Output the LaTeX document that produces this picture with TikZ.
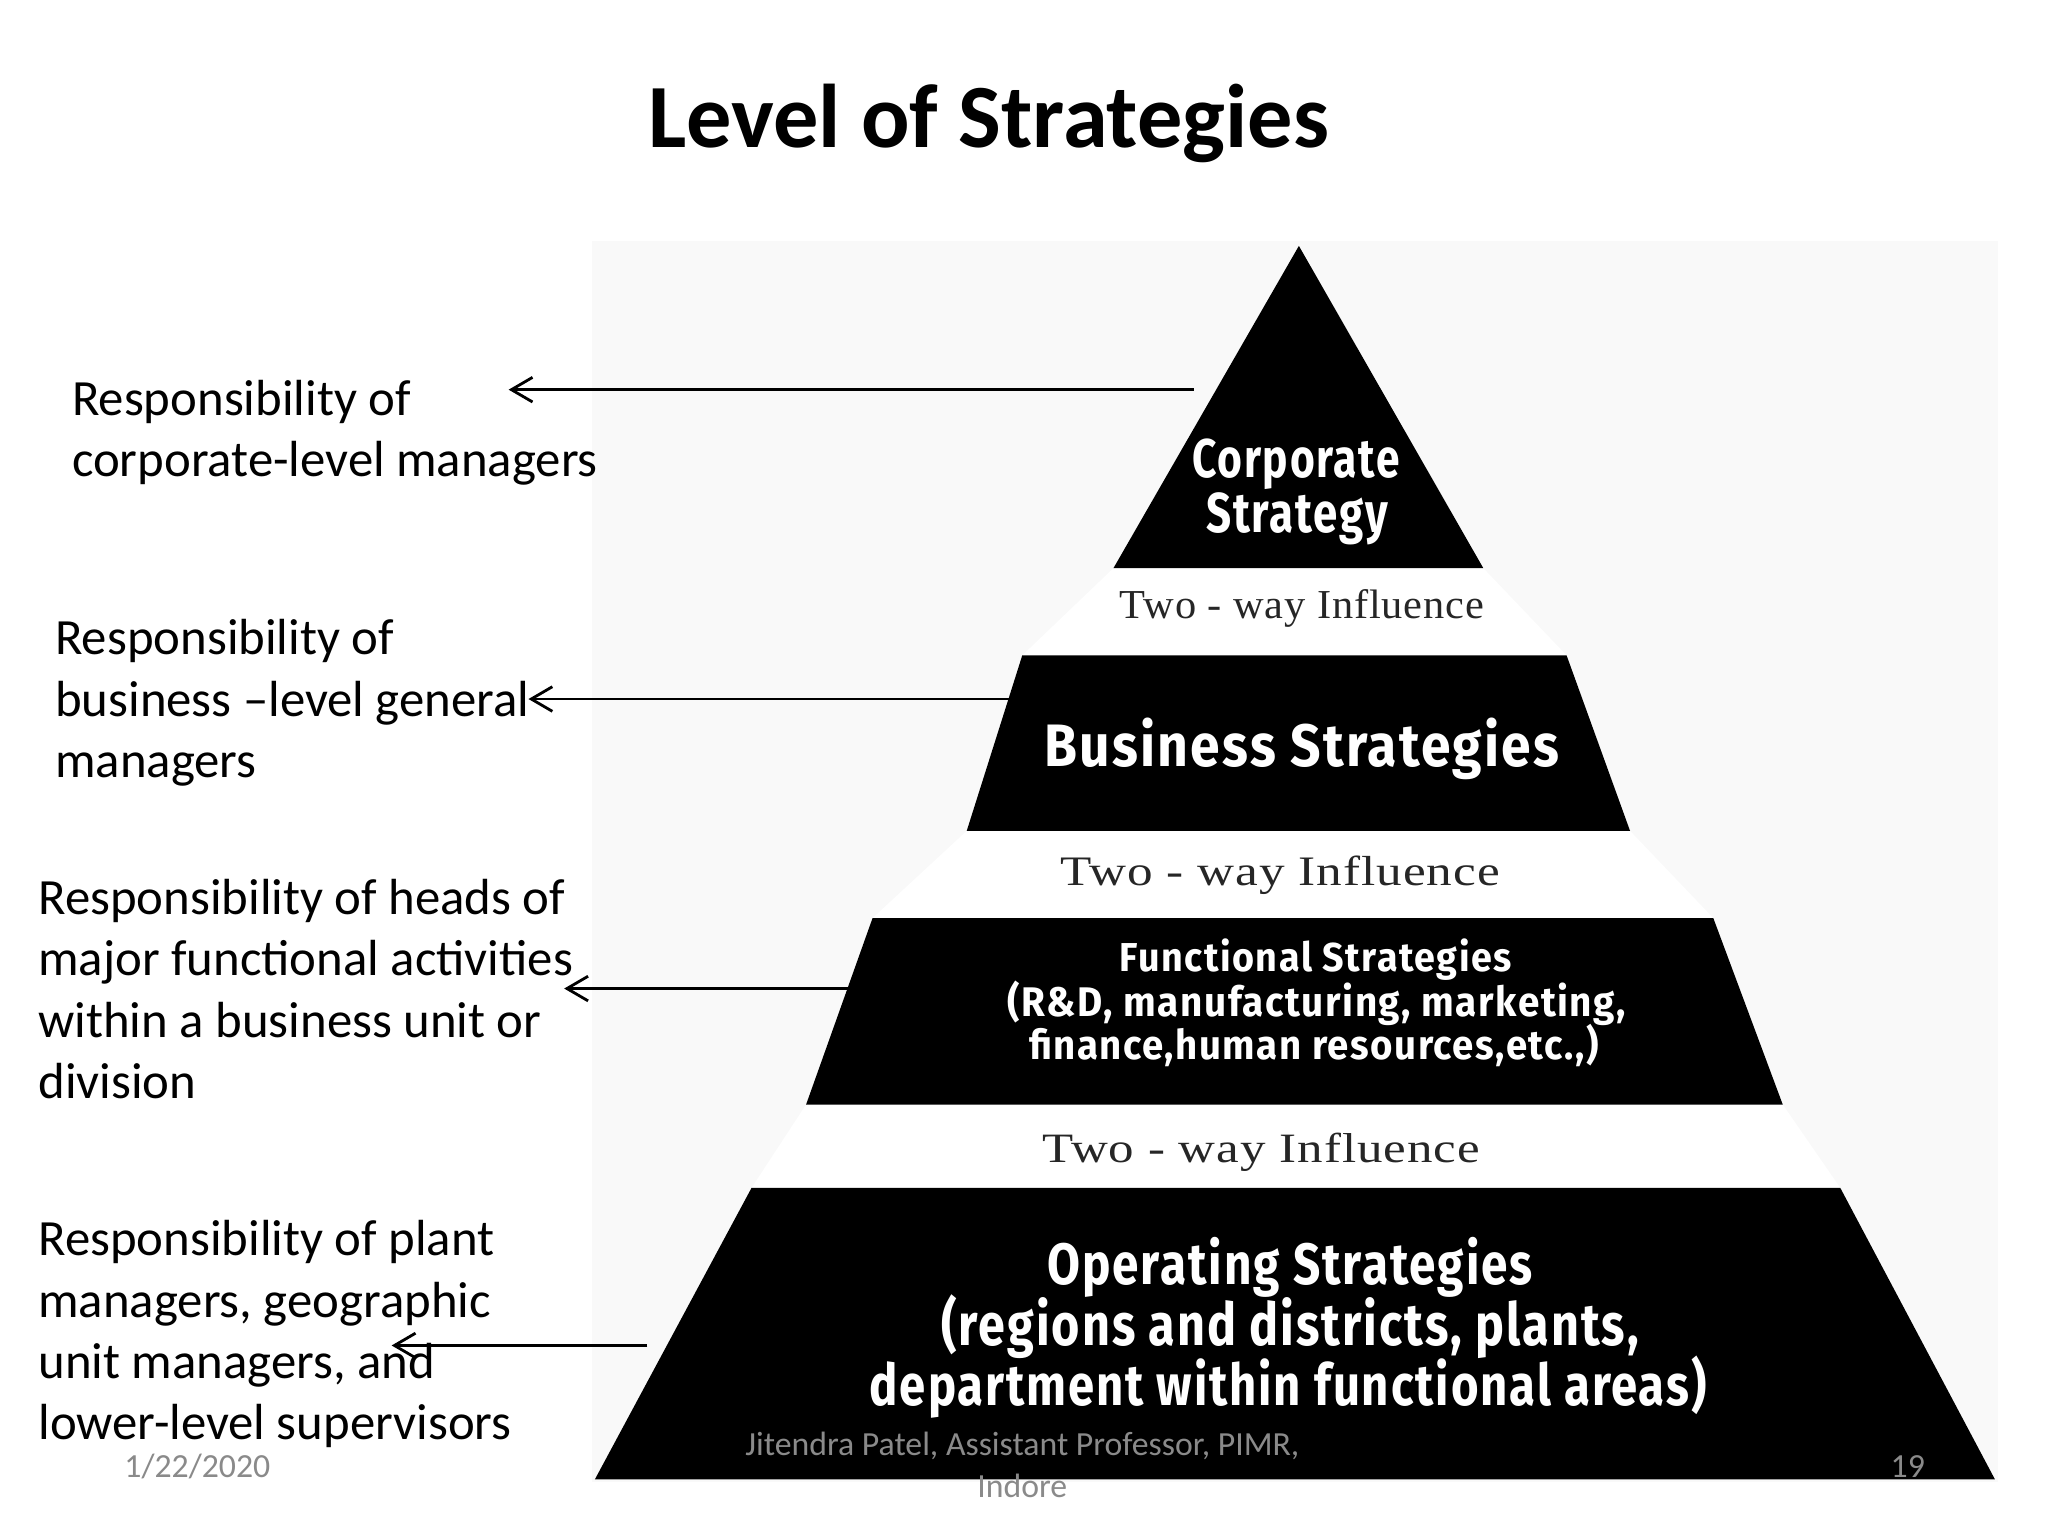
\documentclass[tikz,border=0pt]{standalone}
\usepackage{fontspec}
\setmainfont{Carlito}
\newfontfamily\pyrfont{Fira Sans}[LetterSpace=4]
\newfontfamily\twofont{Liberation Serif}[LetterSpace=2]
\usetikzlibrary{arrows.meta}
\newlength\upx \setlength\upx{0.009916cm}
\newcommand\fitline[3]{\scalebox{1}[#3]{\resizebox{#1\upx}{!}{#2}}}
\definecolor{bgpanel}{HTML}{F9F9F9}
\definecolor{footgray}{HTML}{8A8A8A}
\definecolor{twogray}{HTML}{262626}
\begin{document}
\begin{tikzpicture}[x=0.01cm,y=-0.01cm,
  band/.style={fill=black,draw=none},
  lefttext/.style={anchor=base west,align=left,inner sep=0pt,font=\fontsize{14.44pt}{17.45pt}\selectfont},
  pyrtext/.style={anchor=base,inner sep=0pt,text=white,font=\pyrfont\bfseries},
  twoway/.style={anchor=base,inner sep=0pt,text=twogray,font=\twofont},
  footer/.style={inner sep=0pt,text=footgray,font=\fontsize{9.6pt}{11.9pt}\selectfont},
  resparrow/.style={-{Straight Barb[length=6pt,width=7pt]},line width=0.8pt}]
\useasboundingbox[fill=white] (0,0) rectangle (2048,1536);
\begin{scope}[scale=0.9916]
% panel of the pyramid picture
\fill[bgpanel] (597,243) rectangle (2015,1495);
% corner coordinates
\coordinate (apex) at (1310,248);
\coordinate (l1) at (1123,573); \coordinate (r1) at (1496,573);
\coordinate (l2t) at (1031,661); \coordinate (r2t) at (1580,661);
\coordinate (l2b) at (975,838);  \coordinate (r2b) at (1644,838);
\coordinate (l3t) at (880,926);  \coordinate (r3t) at (1728,926);
\coordinate (l3b) at (813,1114); \coordinate (r3b) at (1798,1114);
\coordinate (l4t) at (758,1198); \coordinate (r4t) at (1856,1198);
\coordinate (l4b) at (600,1492); \coordinate (r4b) at (2012,1492);
% white silhouette
\fill[white] (apex) -- (l1) -- (l2t) -- (l2b) -- (l3t) -- (l3b) -- (l4t) -- (l4b)
  -- (r4b) -- (r4t) -- (r3b) -- (r3t) -- (r2b) -- (r2t) -- (r1) -- cycle;
% bands
\fill[band] (apex) -- (r1) -- (l1) -- cycle;
\fill[band] (l2t) -- (r2t) -- (r2b) -- (l2b) -- cycle;
\fill[band] (l3t) -- (r3t) -- (r3b) -- (l3b) -- cycle;
\fill[band] (l4t) -- (r4t) -- (r4b) -- (l4b) -- cycle;
% title
\node[anchor=base,inner sep=0pt,font=\fontsize{25.7pt}{30pt}\selectfont\bfseries] (title) at (997,149) {Level of Strategies};
% pyramid texts
\node[pyrtext] (corp1) at (1307,482) {\fitline{209}{Corporate}{1.28}};
\node[pyrtext] (corp2) at (1308,537) {\fitline{183}{Strategy}{1.28}};
\node[pyrtext] (bus) at (1313,773) {\fitline{518}{Business Strategies}{1.12}};
\node[pyrtext] (fun1) at (1327,980) {\fitline{395}{Functional Strategies}{1.07}};
\node[pyrtext] (fun2) at (1328,1025) {\fitline{623}{(R\&D, manufacturing, marketing,}{1.07}};
\node[pyrtext] (fun3) at (1325,1068) {\fitline{574}{finance,human resources,etc.,)}{1.07}};
\node[pyrtext] (op1) at (1301,1295) {\fitline{489}{Operating Strategies}{1.22}};
\node[pyrtext] (op2) at (1301,1357) {\fitline{703}{(regions and districts, plants,}{1.22}};
\node[pyrtext] (op3) at (1299,1417) {\fitline{843}{department within functional areas)}{1.22}};
% two-way influence
\node[twoway] (tw1) at (1313,624) {\fitline{367}{Two - way Influence}{0.97}};
\node[twoway] (tw2) at (1291,893) {\fitline{443}{Two - way Influence}{0.82}};
\node[twoway] (tw3) at (1272,1172) {\fitline{441}{Two - way Influence}{0.82}};
% left texts (anchor at the baseline of the last line)
\node[lefttext] (t1) at (72,481) {Responsibility of\\corporate-level managers};
\node[lefttext] (t2) at (55,784) {Responsibility of\\business –level general\\managers};
\node[lefttext] (t3) at (38,1108) {Responsibility of heads of\\major functional activities\\within a business unit or\\division};
\node[lefttext] (t4) at (38,1452) {Responsibility of plant\\managers, geographic\\unit managers, and\\lower-level supervisors};
% arrows
\coordinate (a1s) at (1204,393); \coordinate (a1e) at (513,393);
\coordinate (a2s) at (1031,705); \coordinate (a2e) at (533,705);
\coordinate (a3s) at (859,997);  \coordinate (a3e) at (569,997);
\coordinate (a4s) at (653,1357); \coordinate (a4e) at (395,1357);
\draw[resparrow] (a1s) -- (a1e);
\draw[resparrow] (a2s) -- (a2e);
\draw[resparrow] (a3s) -- (a3e);
\draw[resparrow] (a4s) -- (a4e);
% footer
\node[footer,anchor=base] (date) at (199,1490) {1/22/2020};
\node[footer,align=center] (author) at (1031,1477) {Jitendra Patel, Assistant Professor, PIMR,\\Indore};
\node[footer,anchor=base] (page) at (1924,1490) {19};
\end{scope}
\end{tikzpicture}
\end{document}
